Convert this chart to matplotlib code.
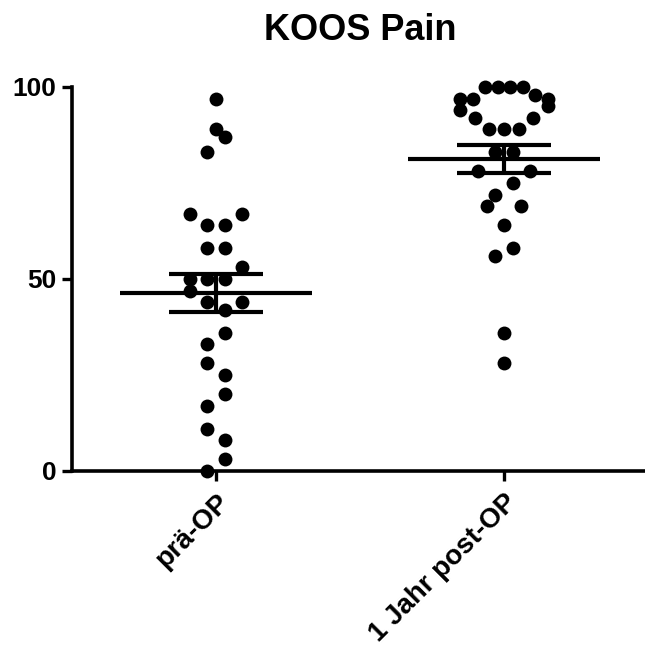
import numpy as np
import matplotlib
matplotlib.use("Agg")
import matplotlib.pyplot as plt
import matplotlib.transforms as mtransforms

plt.rcParams['font.family'] = ['Liberation Sans', 'DejaVu Sans']
plt.rcParams['font.weight'] = 'bold'

# KOOS Pain scores
groups = ["prä-OP", "1 Jahr post-OP"]
pre_op = [97, 89, 87, 83, 67, 67, 64, 64, 58, 58, 53, 50, 50, 50, 47, 44, 44,
          42, 36, 33, 28, 25, 20, 17, 11, 8, 3, 0]
post_op = [100, 100, 100, 100, 98, 97, 97, 97, 95, 94, 92, 92, 89, 89, 89,
           83, 83, 78, 78, 75, 72, 69, 69, 64, 58, 56, 36, 28]
y_ticks = [0, 50, 100]
title = "KOOS Pain"

fig = plt.figure(figsize=(6.45, 6.48), dpi=100)
ax = fig.add_axes([72 / 645, 1 - 471 / 648, 576 / 645, 384 / 648])
ax.set_xlim(-0.5, 1.5)
ax.set_ylim(0, 100)

px_x = 288.0   # pixels per x unit


def rows(values, shift, bin_h=8, step=17.4, max_w=88):
    # GraphPad-like scatter: values binned into rows, spread sideways
    values = np.asarray(values, dtype=float)
    offs = np.zeros(len(values))
    bins = np.floor(values / bin_h).astype(int)
    for b in np.unique(bins):
        idx = np.where(bins == b)[0]
        idx = idx[np.argsort(values[idx], kind='stable')]
        n = len(idx)
        if n == 1:
            continue
        if n >= 8:
            # very full row: highest values in the middle
            idx = idx[::-1]
        s = min(step, max_w / (n - 1))
        slots = (np.arange(n) - (n - 1) / 2) * s
        left_first = (b + shift) % 2 == 0
        order = sorted(range(n), key=lambda k: (round(abs(slots[k]), 3),
                                                slots[k] if left_first else -slots[k]))
        for j, k in zip(idx, order):
            offs[j] = slots[k] / px_x
    return offs


for i, vals in enumerate([pre_op, post_op]):
    vals = np.array(vals, dtype=float)
    xs = i + rows(vals, i)
    ax.scatter(xs, vals, s=100, color='black', zorder=3, clip_on=False, linewidths=0)
    m = vals.mean()
    sem = vals.std(ddof=1) / np.sqrt(len(vals))
    ax.hlines(m, i - 0.333, i + 0.333, color='black', lw=3, zorder=4)
    ax.errorbar(i, m, yerr=sem, fmt='none', ecolor='black', elinewidth=3,
                capsize=34, capthick=3, zorder=4)

ax.spines['top'].set_visible(False)
ax.spines['right'].set_visible(False)
ax.spines['left'].set_linewidth(2.6)
ax.spines['bottom'].set_linewidth(2.6)
ax.spines['bottom'].set_clip_on(False)

ax.set_yticks(y_ticks)
ax.set_yticklabels([str(t) for t in y_ticks], fontsize=19, fontweight='bold')
ax.set_xticks([0, 1])
ax.set_xticklabels(groups, fontsize=20, fontweight='bold', rotation=45,
                   ha='right', va='top', rotation_mode='anchor')
shift = mtransforms.ScaledTranslation(-10 / 100, 0, fig.dpi_scale_trans)
for lab in ax.get_xticklabels():
    lab.set_transform(lab.get_transform() + shift)
ax.tick_params(axis='both', length=7, width=2.4, color='black', pad=4)
ax.tick_params(axis='x', pad=6)

ax.set_title(title, fontsize=26, fontweight='bold', pad=34)

fig.savefig("out.png", dpi=100)
